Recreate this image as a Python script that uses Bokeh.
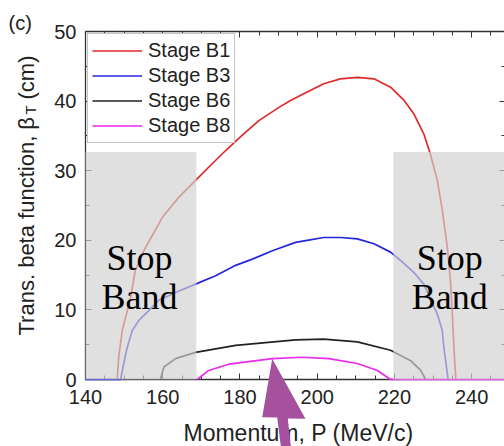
import math
from bokeh.plotting import figure
from bokeh.models import (Range1d, LinearAxis, FixedTicker, Label, PolyAnnotation,
                          Legend, LegendItem, CustomLabelingPolicy)
from bokeh.embed import file_html
from bokeh.resources import INLINE

# ---------------- data ----------------
b1_p = [148.2, 148.6, 149.5, 151.7, 152.9, 155.1, 159.9, 164.2, 168.5, 172.8,
        176.3, 180.6, 184.9, 190.1, 193.1, 197.4, 201.7, 206.0, 210.4, 214.7,
        219.0, 222.5, 225.0, 227.6, 229.3, 231.1, 232.4, 233.7, 234.5, 235.0,
        235.4, 235.9]
b1_beta = [0.0, 3.2, 7.0, 11.8, 15.7, 18.5, 23.3, 26.2, 28.6, 31.0,
           32.9, 35.1, 37.2, 39.1, 40.1, 41.3, 42.5, 43.2, 43.4, 43.2,
           42.0, 40.1, 38.2, 35.3, 32.4, 28.6, 24.3, 19.0, 14.2, 9.4,
           4.6, 0.0]

b3_p = [140.0, 149.1, 149.9, 150.8, 152.1, 153.8, 156.4, 159.0, 163.3, 168.5,
        173.7, 178.9, 183.2, 188.4, 194.4, 197.4, 201.7, 206.1, 210.4, 214.7,
        219.0, 221.6, 225.0, 227.6, 231.1, 232.4, 232.8, 233.9]
b3_beta = [0.0, 0.0, 2.3, 4.6, 7.0, 8.5, 9.9, 11.4, 12.5, 13.7,
           14.9, 16.4, 17.3, 18.5, 19.7, 20.0, 20.4, 20.4, 20.2, 19.5,
           18.3, 17.1, 15.4, 13.7, 9.4, 7.0, 4.6, 0.0]

b6_p = [159.4, 160.3, 163.3, 168.5, 178.9, 194.4, 201.7, 210.4, 219.0, 224.2,
        226.8, 228.1]
b6_beta = [0.0, 1.8, 3.0, 3.9, 4.9, 5.7, 5.8, 5.4, 4.2, 2.7, 1.3, 0.0]

b8_p = [168.9, 171.9, 177.1, 188.4, 196.0, 203.0, 210.4, 215.6, 219.0, 250.0]
b8_beta = [0.0, 1.3, 2.2, 3.0, 3.2, 3.0, 2.3, 1.3, 0.0, 0.0]

series_names = ["Stage B1", "Stage B3", "Stage B6", "Stage B8"]
series_colors = ["#e02a2a", "#2626dc", "#222222", "#ec2aec"]

stop_left = [140.0, 219.7]
stop_right = [168.7, 250.0]
stop_top = [32.7, 32.7]
stop_bottom = [0.0, 0.0]

x_major = [140, 160, 180, 200, 220, 240]
x_minor = [145, 150, 155, 165, 170, 175, 185, 190, 195, 205, 210, 215,
           225, 230, 235, 245]
y_major = [0, 10, 20, 30, 40, 50]
y_minor = [5, 15, 25, 35, 45]

X_MIN, X_MAX, Y_MIN, Y_MAX = 140, 248.5, 0, 50
X_RIGHT_SPINE = 248.75   # right frame edge lies just beyond the picture

# ---------------- figure ----------------
# frame covers the whole canvas; axes are pinned at fixed data locations
W, H = 504, 446
FL, FT, FB = 85, 31, 379          # pixel positions of x=140, y=50, y=0
xs_per_px = (X_MAX - X_MIN) / (W - FL)
ys_per_px = (Y_MAX - Y_MIN) / (FB - FT)

p = figure(width=W, height=H, output_backend="svg", toolbar_location=None,
           x_range=Range1d(X_MIN - FL * xs_per_px, X_MAX),
           y_range=Range1d(Y_MIN - (H - FB) * ys_per_px, Y_MAX + FT * ys_per_px),
           min_border=0, min_border_left=0, min_border_right=0,
           min_border_top=0, min_border_bottom=0,
           background_fill_color="white", border_fill_color="white")
p.outline_line_color = None
p.grid.visible = False

FONT = "Liberation Sans"
AX = "#333333"
TXT = "#222222"

def style_axis(ax, ticks, minors):
    ax.ticker = FixedTicker(ticks=ticks, minor_ticks=minors)
    ax.axis_line_color = AX
    ax.axis_line_width = 1.3
    ax.major_tick_line_color = AX
    ax.minor_tick_line_color = AX
    ax.major_tick_in = 6
    ax.major_tick_out = 0
    ax.minor_tick_in = 4
    ax.minor_tick_out = 0
    ax.major_label_text_font = FONT
    ax.major_label_text_font_size = "20px"
    ax.major_label_text_color = TXT
    ax.level = "underlay"

no_labels = "for (const i of indices) indices.unset(i)"

xa = p.xaxis[0]
ya = p.yaxis[0]
style_axis(xa, x_major, x_minor)
style_axis(ya, y_major, y_minor)
xa.fixed_location = Y_MIN
xa.bounds = (X_MIN, X_MAX)
xa.major_label_standoff = 10
ya.fixed_location = X_MIN
ya.bounds = (Y_MIN, Y_MAX)
ya.major_label_standoff = 9

top = LinearAxis(fixed_location=Y_MAX, bounds=(X_MIN, X_MAX))
style_axis(top, x_major, x_minor)
top.major_label_policy = CustomLabelingPolicy(code=no_labels)
p.add_layout(top, "above")

right = LinearAxis(fixed_location=X_RIGHT_SPINE, bounds=(Y_MIN, Y_MAX))
style_axis(right, y_major, y_minor)
right.major_label_policy = CustomLabelingPolicy(code=no_labels)
p.add_layout(right, "right")

# ---------------- curves ----------------
data = [(b1_p, b1_beta), (b3_p, b3_beta), (b6_p, b6_beta), (b8_p, b8_beta)]
renderers = []
for (xs, ys), c in zip(data, series_colors):
    renderers.append(p.line(xs, ys, line_color=c, line_width=1.7))

# stop bands drawn over the curves (semi-transparent)
p.quad(left=stop_left, right=stop_right, top=stop_top, bottom=stop_bottom,
       fill_color="#d2d2d2", fill_alpha=0.68, line_color=None)

for xc in (154.0, 234.3):
    for yb, word in ((17.4, "Stop"), (11.8, "Band")):
        p.add_layout(Label(x=xc, y=yb, text=word, text_align="center",
                           text_baseline="alphabetic", text_font="Liberation Serif",
                           text_font_size="36px", text_color="black"))

legend = Legend(items=[LegendItem(label=n, renderers=[r]) for n, r in zip(series_names, renderers)],
                location=(87, 303), padding=4, spacing=0,
                glyph_width=50, glyph_height=25, label_height=25, label_standoff=6,
                label_text_font=FONT, label_text_font_size="20px", label_text_color=TXT,
                border_line_color="#8c8c8c", border_line_width=1,
                background_fill_color="white", background_fill_alpha=1.0)
p.add_layout(legend)

# ---------------- titles (screen units, from the canvas bottom-left) ----------------
def lab(x, y, text, size, angle=0.0, align="left"):
    p.add_layout(Label(x=x, y=y, x_units="screen", y_units="screen", angle=angle,
                       text=text, text_align=align, text_baseline="alphabetic",
                       text_font=FONT, text_font_size=size, text_color=TXT))

lab(298, 14, "Momentum, P (MeV/c)", "23px", align="center")
ang = math.pi / 2
lab(26, 111, "Trans. beta function, β", "22px", angle=ang)
lab(30, 332, "T", "15px", angle=ang)
lab(26, 347, "(cm)", "22px", angle=ang)
lab(8, 424, "(c)", "20px")

# ---------------- pointer arrow overlay (canvas pixels) ----------------
arrow_sx = [271.7, 261.7, 276.7, 280.5, 290.5, 287.3, 305.0]
arrow_sy = [358.3, 416.7, 417.0, 447.0, 447.0, 418.0, 418.3]
p.add_layout(PolyAnnotation(xs=arrow_sx, ys=arrow_sy, xs_units="canvas", ys_units="canvas",
                            fill_color="#a6519e", fill_alpha=1.0, line_color=None))

open("out.html", "w").write(file_html(p, INLINE))
